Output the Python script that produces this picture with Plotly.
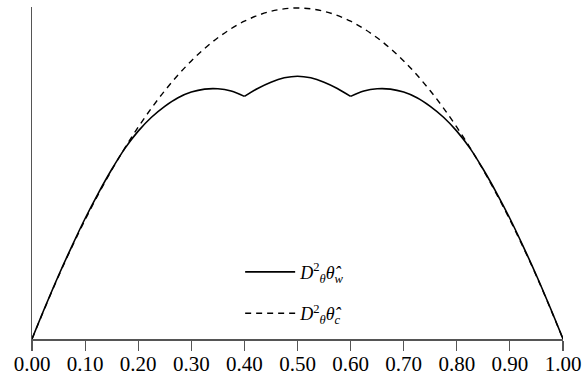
import plotly.graph_objects as go

# ---- data ----
# solid curve, split at the two cusps (x = 0.4 and x = 0.6)
w_x_left = [0.0, 0.025, 0.05, 0.075, 0.1, 0.125, 0.15, 0.175, 0.2, 0.225, 0.25, 0.275, 0.3, 0.325, 0.35, 0.375, 0.4]
w_y_left = [0.0, 0.098, 0.192, 0.280, 0.364, 0.441, 0.512, 0.576, 0.628, 0.670, 0.703, 0.729, 0.746, 0.755, 0.756, 0.749, 0.733]
w_x_mid = [0.4, 0.425, 0.45, 0.475, 0.5, 0.525, 0.55, 0.575, 0.6]
w_y_mid = [0.733, 0.757, 0.776, 0.789, 0.794, 0.789, 0.776, 0.757, 0.733]
w_x_right = [0.6, 0.625, 0.65, 0.675, 0.7, 0.725, 0.75, 0.775, 0.8, 0.825, 0.85, 0.875, 0.9, 0.925, 0.95, 0.975, 1.0]
w_y_right = [0.733, 0.749, 0.756, 0.755, 0.746, 0.729, 0.703, 0.670, 0.628, 0.576, 0.512, 0.441, 0.364, 0.280, 0.192, 0.098, 0.0]

# dashed curve
c_x = [0.0, 0.05, 0.1, 0.15, 0.2, 0.25, 0.3, 0.35, 0.4, 0.45, 0.5, 0.55, 0.6, 0.65, 0.7, 0.75, 0.8, 0.85, 0.9, 0.95, 1.0]
c_y = [0.0, 0.19, 0.36, 0.51, 0.64, 0.75, 0.84, 0.91, 0.96, 0.99, 1.0, 0.99, 0.96, 0.91, 0.84, 0.75, 0.64, 0.51, 0.36, 0.19, 0.0]

tick_vals = [0.0, 0.1, 0.2, 0.3, 0.4, 0.5, 0.6, 0.7, 0.8, 0.9, 1.0]
tick_text = ["0.00", "0.10", "0.20", "0.30", "0.40", "0.50", "0.60", "0.70", "0.80", "0.90", "1.00"]

label_w = "<i>D</i><sup>2</sup><sub><i>θ</i></sub><i>θ̂</i><sub><i>w</i></sub>"
label_c = "<i>D</i><sup>2</sup><sub><i>θ</i></sub><i>θ̂</i><sub><i>c</i></sub>"

FONT = "Liberation Serif, Times New Roman, serif"

fig = go.Figure()
segments = [(w_x_left, w_y_left), (w_x_mid, w_y_mid), (w_x_right, w_y_right)]
for i, (xs, ys) in enumerate(segments):
    fig.add_trace(go.Scatter(
        x=xs, y=ys, mode="lines",
        line=dict(color="black", width=1.6, shape="spline", smoothing=1.0),
        name=label_w, legendgroup="w", showlegend=(i == 0),
        hoverinfo="skip",
    ))
fig.add_trace(go.Scatter(
    x=c_x, y=c_y, mode="lines",
    line=dict(color="black", width=1.4, dash="6px,5px", shape="spline", smoothing=1.0),
    name=label_c, legendgroup="c", showlegend=True, hoverinfo="skip",
))

fig.update_layout(
    width=584, height=376,
    margin=dict(l=32, r=21, t=7, b=37, autoexpand=False),
    paper_bgcolor="white", plot_bgcolor="white",
    font=dict(family=FONT, color="black"),
    showlegend=True,
    legend=dict(
        x=0.392, y=0.257, xanchor="left", yanchor="top",
        bgcolor="rgba(0,0,0,0)", font=dict(family=FONT, size=18, color="black"),
        tracegroupgap=15, itemwidth=50,
    ),
    xaxis=dict(
        range=[0, 1], tickvals=tick_vals, ticktext=tick_text, automargin=False,
        showgrid=False, zeroline=False, showline=True, linecolor="#555555", linewidth=1.5,
        ticks="outside", ticklen=10, tickwidth=1.2, tickcolor="#555555",
        tickfont=dict(family=FONT, size=21, color="black"),
        ticklabelstandoff=-5,
    ),
    yaxis=dict(
        range=[0, 1.003], showgrid=False, zeroline=False, showline=True, automargin=False,
        linecolor="#555555", linewidth=1.5, showticklabels=False, ticks="",
    ),
)

fig.write_html(
    "out.html",
    config={"displayModeBar": False, "staticPlot": True},
    post_script="document.body.style.margin='0px';document.body.style.padding='0px';",
)
